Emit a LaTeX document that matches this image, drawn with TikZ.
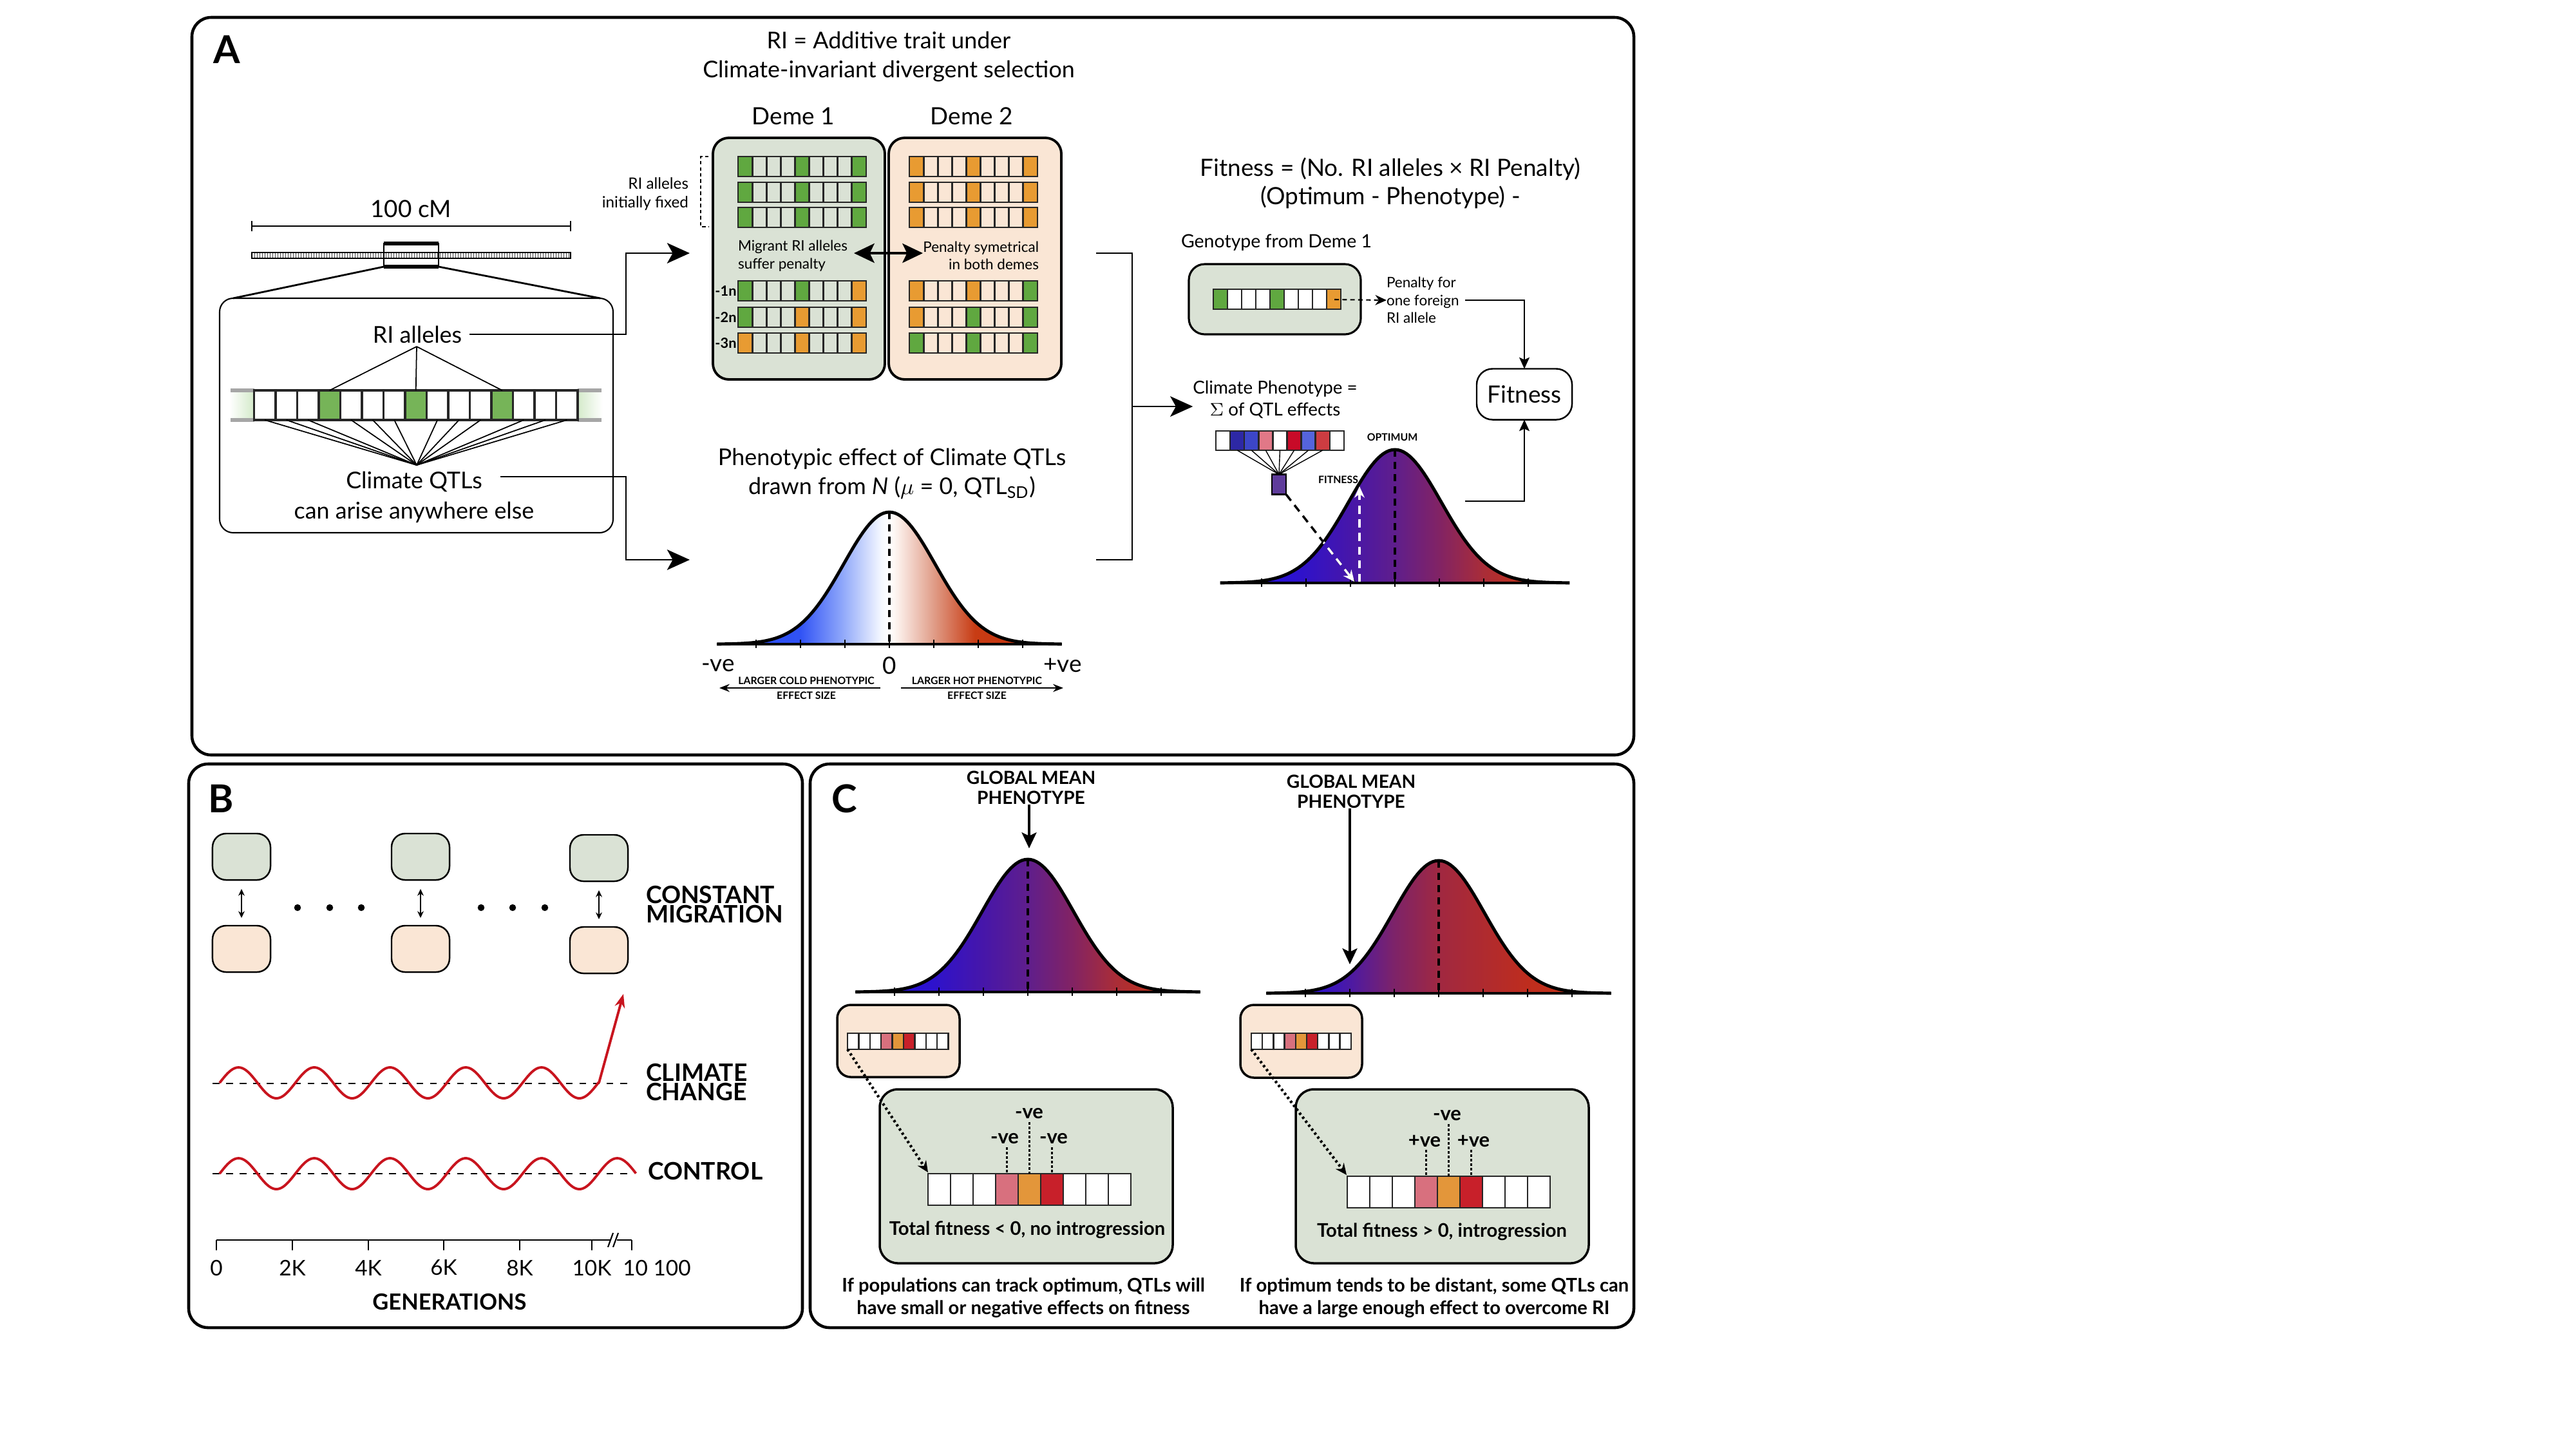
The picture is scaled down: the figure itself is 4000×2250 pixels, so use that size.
\documentclass[tikz,border=0pt]{standalone}
\usepackage{fontspec}
\setmainfont{Lato}
\usetikzlibrary{arrows.meta,calc}
\definecolor{demeg}{RGB}{218,226,213}
\definecolor{demep}{RGB}{250,230,213}
\definecolor{cg}{RGB}{96,168,64}
\definecolor{co}{RGB}{232,155,50}
\definecolor{sg}{RGB}{118,180,88}
\definecolor{sgl}{RGB}{212,234,202}
\definecolor{wred}{RGB}{200,20,30}
\definecolor{qa}{RGB}{45,40,165}
\definecolor{qb}{RGB}{60,70,200}
\definecolor{qc}{RGB}{225,120,135}
\definecolor{qd}{RGB}{200,10,40}
\definecolor{qe}{RGB}{85,100,220}
\definecolor{qf}{RGB}{205,60,65}
\definecolor{pbox}{RGB}{95,60,155}
\definecolor{cpink}{RGB}{216,112,126}
\definecolor{corange}{RGB}{227,150,58}
\definecolor{cred}{RGB}{200,32,42}
\definecolor{b1}{RGB}{40,75,240}
\definecolor{b2}{RGB}{48,82,245}
\definecolor{b3}{RGB}{140,165,250}
\definecolor{b4}{RGB}{245,248,255}
\definecolor{r1}{RGB}{252,240,235}
\definecolor{r2}{RGB}{225,160,140}
\definecolor{r3}{RGB}{200,60,20}
\definecolor{r4}{RGB}{195,45,10}
\pgfdeclarehorizontalshading{qtlshade}{100bp}{color(0bp)=(b1); color(25bp)=(b1); color(37bp)=(b2); color(43bp)=(b3); color(48.8bp)=(b4); color(50bp)=(white); color(51.2bp)=(r1); color(56.2bp)=(r2); color(62.4bp)=(r3); color(75bp)=(r4); color(100bp)=(r4)}
\definecolor{f1}{RGB}{35,15,225}
\definecolor{f2}{RGB}{45,18,205}
\definecolor{f3}{RGB}{70,22,170}
\definecolor{f4}{RGB}{95,30,140}
\definecolor{f5}{RGB}{130,35,100}
\definecolor{f6}{RGB}{170,45,55}
\definecolor{f7}{RGB}{195,50,25}
\pgfdeclarehorizontalshading{fitshade}{100bp}{color(0bp)=(f1); color(29bp)=(f1); color(36bp)=(f2); color(43.4bp)=(f3); color(50bp)=(f4); color(56.4bp)=(f5); color(62.8bp)=(f6); color(69.2bp)=(f7); color(100bp)=(f7)}
\definecolor{h1}{RGB}{35,15,220}
\definecolor{h2}{RGB}{75,25,165}
\definecolor{h3}{RGB}{125,35,105}
\definecolor{h4}{RGB}{160,40,65}
\definecolor{h5}{RGB}{190,45,30}
\definecolor{h6}{RGB}{200,55,20}
\pgfdeclarehorizontalshading{hotshade}{100bp}{color(0bp)=(h1); color(30.6bp)=(h1); color(37bp)=(h2); color(43.5bp)=(h3); color(50bp)=(h4); color(62.8bp)=(h5); color(75bp)=(h6); color(100bp)=(h6)}
\newcommand{\generow}[6]{%
  \foreach \gcol [count=\gidx from 0] in {#5}{%
    \filldraw[fill=\gcol,draw=black!85,line width=#6] ({#1+\gidx*#3},#2) rectangle ({#1+(\gidx+1)*#3},{#2+#4});}}
\newcommand{\bellcurve}[5]{%
  \begin{scope}
    \clip plot[domain=-3.77:3.77,samples=121] ({#1+#3*\x},{#2-#4*exp(-0.5*\x*\x)}) -- cycle;
    \shade[shading=#5] ({#1-3.77*#3},{#2+2}) rectangle ({#1+3.77*#3},{#2-#4-6});
  \end{scope}
  \foreach \k in {-3,...,3}{\draw[line width=0.8pt] ({#1+\k*69},{#2-7}) -- ({#1+\k*69},{#2+6});}
  \draw[line width=1.4pt,line join=round] plot[domain=-3.77:3.77,samples=121] ({#1+#3*\x},{#2-#4*exp(-0.5*\x*\x)});
  \draw[line width=1.4pt] ({#1-3.77*#3},#2) -- ({#1+3.77*#3},#2);
  \draw[line width=0.9pt,dash pattern=on 3.2pt off 2.2pt] (#1,{#2-#4}) -- (#1,#2);
}
\begin{document}
\begin{tikzpicture}[x=0.01cm,y=-0.01cm,
  every node/.style={inner sep=0pt,outer sep=0pt},
  panel/.style={draw,line width=1.3pt,rounded corners=8.5pt},
  plab/.style={font=\fontsize{17}{17}\selectfont\bfseries},
  tbig/.style={font=\fontsize{10.2}{12.8}\selectfont,align=center},
  tmid/.style={font=\fontsize{8.1}{9.7}\selectfont,align=center},
  tsmall/.style={font=\fontsize{6.4}{7.8}\selectfont},
  tnb/.style={font=\fontsize{6.2}{7}\selectfont\bfseries},
  ttiny/.style={font=\fontsize{4.5}{7}\selectfont\bfseries,align=center},
  theavy/.style={font=\fontsize{10.6}{8.7}\selectfont\bfseries,align=left},
  tcb/.style={font=\fontsize{8}{8.7}\selectfont\bfseries,align=center},
  tcs/.style={font=\fontsize{8.3}{10}\selectfont\bfseries,align=center},
  tve/.style={font=\fontsize{8.8}{9}\selectfont\bfseries},
  demebox/.style={draw,line width=1.1pt,rounded corners=7pt},
  arrbig/.style={-{Stealth[length=10pt,width=9pt,inset=2.5pt]}},
  arrmed/.style={-{Stealth[length=5pt,width=4.5pt,inset=1pt]}},
  wave/.style={draw=wred,line width=1.1pt},
  dotarr/.style={line width=1.2pt,dash pattern=on 1pt off 1.2pt,-{Stealth[length=5pt,width=4.5pt]}},
  smallbox/.style={draw,line width=0.7pt,rounded corners=6pt,minimum width=0.9cm,minimum height=0.72cm},
]
\useasboundingbox (0,0) rectangle (4000,2250);
\fill[white] (0,0) rectangle (4000,2250);

%================ PANEL A =================
\draw[panel] (298,27) rectangle (2537,1172);
\node[plab] (labA) at (352,77) {A};
\node[tbig] (titleA) at (1380,88) {RI = Additive trait under\\Climate-invariant divergent selection};

% chromosome
\node[tbig,font=\fontsize{10.5}{12}\selectfont] (cm) at (638,324) {100 cM};
\coordinate (sb0) at (391,351); \coordinate (sb1) at (886,351);
\draw[line width=0.7pt] (sb0) -- (sb1);
\draw[line width=0.7pt] (391,343) -- (391,359) (886,343) -- (886,359);
\foreach \i in {0,...,123}{\draw[line width=0.25pt,black!70] ({391+4*\i},392) -- ({391+4*\i},401);}
\draw[line width=0.5pt] (391,392) rectangle (886,401);
\draw[line width=0.7pt] (596,378) rectangle (681,414);
\draw[line width=1.5pt] (596,378) -- (681,378) (596,414) -- (681,414);
\coordinate (hlbl) at (596,414); \coordinate (hlbr) at (681,414);
\draw[line width=0.6pt,rounded corners=6pt] (341,463) rectangle (952,827);
\coordinate (bxtl) at (362,463); \coordinate (bxtr) at (932,463);
\draw[line width=0.8pt] (hlbl) -- (bxtl);
\draw[line width=0.8pt] (hlbr) -- (bxtr);

% gene strip
\shade[left color=white,right color=sgl] (356,606) rectangle (394,652);
\shade[left color=sgl,right color=white] (897,606) rectangle (936,652);
\draw[line width=1.6pt,black!35] (358,606) -- (395,606) (358,652) -- (395,652) (897,606) -- (934,606) (897,652) -- (934,652);
\generow{394.5}{606}{33.5}{46}{white,white,white,sg,white,white,white,sg,white,white,white,sg,white,white,white}{1.1pt}
\node[tbig] (rial) at (648,519) {RI alleles};
\coordinate (apex) at (647,538);
\coordinate (fan) at (647,722);
\foreach \c in {4,8,12}{\draw[line width=0.5pt] (apex) -- ({361+(\c+0.5)*33.5},606);}
\foreach \c in {1,2,3,5,6,7,9,10,11,13,14,15}{\draw[line width=0.5pt] (fan) -- ({361+(\c+0.5)*33.5},652);}
\node[tbig] (cq1) at (643,748) {Climate QTLs};
\node[tbig] (cq2) at (643,795) {can arise anywhere else};

% connectors to demes / QTL curve
\coordinate (j1) at (972,393); \coordinate (tip1) at (1071,393);
\coordinate (j2) at (972,869); \coordinate (tip2) at (1071,869);
\draw[line width=0.8pt,arrbig] ($(rial.east)+(12,0)$) -| (j1) -- (tip1);
\draw[line width=0.8pt,arrbig] ($(cq1.east)+(28,-8)$) -| (j2) -- (tip2);

% demes
\node[tbig,font=\fontsize{10.5}{12}\selectfont] (d1lab) at (1232,180) {Deme 1};
\node[tbig,font=\fontsize{10.5}{12}\selectfont] (d2lab) at (1509,180) {Deme 2};
\draw[demebox,fill=demeg] (1107,214) rectangle (1374,589);
\draw[demebox,fill=demep] (1380,214) rectangle (1648,589);
\generow{1146}{243}{22.1}{31}{cg,demeg,demeg,demeg,cg,demeg,demeg,demeg,cg}{0.8pt}
\generow{1146}{283}{22.1}{31}{cg,demeg,demeg,demeg,cg,demeg,demeg,demeg,cg}{0.8pt}
\generow{1146}{322}{22.1}{31}{cg,demeg,demeg,demeg,cg,demeg,demeg,demeg,cg}{0.8pt}
\generow{1146}{436}{22.1}{31}{cg,demeg,demeg,demeg,cg,demeg,demeg,demeg,co}{0.8pt}
\generow{1146}{477}{22.1}{31}{cg,demeg,demeg,demeg,co,demeg,demeg,demeg,co}{0.8pt}
\generow{1146}{517}{22.1}{31}{co,demeg,demeg,demeg,co,demeg,demeg,demeg,co}{0.8pt}
\generow{1412}{243}{22.1}{31}{co,demep,demep,demep,co,demep,demep,demep,co}{0.8pt}
\generow{1412}{283}{22.1}{31}{co,demep,demep,demep,co,demep,demep,demep,co}{0.8pt}
\generow{1412}{322}{22.1}{31}{co,demep,demep,demep,co,demep,demep,demep,co}{0.8pt}
\generow{1412}{436}{22.1}{31}{co,demep,demep,demep,co,demep,demep,demep,cg}{0.8pt}
\generow{1412}{477}{22.1}{31}{co,demep,demep,demep,cg,demep,demep,demep,cg}{0.8pt}
\generow{1412}{517}{22.1}{31}{cg,demep,demep,demep,cg,demep,demep,demep,cg}{0.8pt}
\node[tnb] (n1) at (1127,452) {-1n};
\node[tnb] (n2) at (1127,493) {-2n};
\node[tnb] (n3) at (1127,533) {-3n};
\node[tsmall,align=left,anchor=west] (migr) at (1146,397) {Migrant RI alleles\\suffer penalty};
\node[tsmall,align=right,anchor=east] (pens) at (1613,397) {Penalty symetrical\\in both demes};
\coordinate (da1) at (1326,393); \coordinate (da2) at (1433,393);
\draw[line width=1.2pt,{Stealth[length=9pt,width=8.5pt,inset=2pt]}-{Stealth[length=9pt,width=8.5pt,inset=2pt]}] (da1) -- (da2);
\node[tsmall,font=\fontsize{6.9}{8.2}\selectfont,align=right,anchor=east] (rifix) at (1069,301) {RI alleles\\initially fixed};
\draw[line width=0.6pt,dash pattern=on 1.5pt off 1.2pt] (1100,243) -- (1088,243) -- (1088,352) -- (1100,352);

% QTL effect distribution
\node[tbig] (phtitle) at (1385,735) {Phenotypic effect of Climate QTLs\\drawn from \textit{N} ($\mu$ = 0, QTL\textsubscript{SD})};
\bellcurve{1381}{1000}{71}{205}{qtlshade}
\node[tbig,font=\fontsize{10.5}{12}\selectfont] (nve) at (1115,1033) {-ve};
\node[tbig,font=\fontsize{10.5}{12}\selectfont] (zero) at (1381,1033) {0};
\node[tbig,font=\fontsize{10.5}{12}\selectfont] (pve) at (1650,1033) {+ve};
\node[ttiny] (cold) at (1252,1068) {LARGER COLD PHENOTYPIC\\[-0.6pt]EFFECT SIZE};
\node[ttiny] (hot) at (1517,1068) {LARGER HOT PHENOTYPIC\\[-0.6pt]EFFECT SIZE};
\coordinate (ca0) at (1367,1068); \coordinate (ca1) at (1117,1068);
\coordinate (ha0) at (1399,1068); \coordinate (ha1) at (1651,1068);
\draw[line width=0.6pt,-{Stealth[length=4.5pt,width=3.5pt]}] (ca0) -- (ca1);
\draw[line width=0.6pt,-{Stealth[length=4.5pt,width=3.5pt]}] (ha0) -- (ha1);

% bracket to fitness
\coordinate (bt1) at (1702,393); \coordinate (bt2) at (1758,393);
\coordinate (bb2) at (1758,869); \coordinate (bb1) at (1702,869);
\coordinate (bm) at (1758,631);
\draw[line width=0.8pt] (bt1) -- (bt2) -- (bb2) -- (bb1);

% fitness formula
\node[tbig,font=\fontsize{10.5}{12.6}\selectfont] (formula) at (2159,284) {Fitness = (No. RI alleles × RI Penalty)\\(Optimum - Phenotype) -};
\node[tmid,anchor=west] (genlab) at (1834,377) {Genotype from Deme 1};
\draw[demebox,line width=0.9pt,fill=demeg] (1846,410) rectangle (2113,519);
\generow{1884}{449}{22}{31}{cg,white,white,white,cg,white,white,white,co}{0.7pt}
\coordinate (forr) at (2072,465);
\node[tsmall,align=left,anchor=west] (pen) at (2153,466) {Penalty for\\one foreign\\RI allele};
\draw[line width=0.6pt,dash pattern=on 2pt off 1.5pt,-{Stealth[length=5pt,width=4.5pt]}] (forr) -- (pen.west);
\node[draw,line width=0.7pt,rounded corners=7pt,minimum width=1.48cm,minimum height=0.79cm,font=\fontsize{10.5}{12}\selectfont] (fit) at (2367,612) {Fitness};
\coordinate (penr) at (2275,466);
\coordinate (curr) at (2275,778);
\draw[line width=0.7pt,arrmed] (penr) -| (fit.north);
\draw[line width=0.7pt,arrmed] (curr) -| (fit.south);
\node[tmid,font=\fontsize{7.9}{9.6}\selectfont] (cphen) at (1980,620) {Climate Phenotype =\\$\Sigma$ of QTL effects};
\draw[line width=0.8pt,arrbig] (bm) -- (bm -| cphen.west);
\generow{1888}{669}{22.1}{30}{white,qa,qb,qc,white,qd,qe,qf,white}{0.7pt}
\node[draw,line width=0.7pt,fill=pbox,minimum width=0.22cm,minimum height=0.31cm] (pb) at (1986,752) {};
\foreach \c in {1,...,7}{\draw[line width=0.4pt] (pb.north) -- ({1888+(\c+0.5)*22.1},699);}
\bellcurve{2166}{905}{72}{207}{fitshade}
\coordinate (dtip) at (2103,903);
\coordinate (fup0) at (2111,903); \coordinate (fup1) at (2111,755);
\draw[line width=1pt,dash pattern=on 3.5pt off 2.5pt] (pb.south east) -- (dtip);
\begin{scope}
  \clip plot[domain=-3.77:3.77,samples=121] ({2166+72*\x},{905-207*exp(-0.5*\x*\x)}) -- (2440,925) -- (1890,925) -- cycle;
  \draw[white,line width=1pt,dash pattern=on 3.5pt off 2.5pt,-{Stealth[length=5pt,width=4.5pt]}] (pb.south east) -- (dtip);
\end{scope}
\draw[white,line width=1pt,dash pattern=on 3.5pt off 2.5pt,-{Stealth[length=5pt,width=4.5pt]}] (fup0) -- (fup1);
\node[ttiny] (optlab) at (2162,679) {OPTIMUM};
\node[ttiny] (fitlab) at (2078,745) {FITNESS};

%================ PANEL B =================
\draw[panel] (293,1186) rectangle (1246,2061);
\node[plab] (labB) at (343,1240) {B};
\node[smallbox,fill=demeg] (g1) at (375,1330) {};
\node[smallbox,fill=demeg] (g2) at (653,1330) {};
\node[smallbox,fill=demeg] (g3) at (930,1332) {};
\node[smallbox,fill=demep] (p1) at (375,1473) {};
\node[smallbox,fill=demep] (p2) at (653,1473) {};
\node[smallbox,fill=demep] (p3) at (930,1475) {};
\foreach \n in {1,2,3}{\draw[line width=0.5pt,{Stealth[length=3pt,width=2.8pt]}-{Stealth[length=3pt,width=2.8pt]}] ($(g\n.south)+(0,14)$) -- ($(p\n.north)-(0,12)$);}
\foreach \xx in {462,512,561,747,796,846}{\fill (\xx,1409) circle (1.5pt);}
\node[theavy,anchor=west] (cmig) at (1003,1404) {CONSTANT\\MIGRATION};
\node[theavy,anchor=west] (cchg) at (1003,1680) {CLIMATE\\CHANGE};
\node[theavy,anchor=west] (ctrl) at (1006,1818) {CONTROL};
\draw[line width=0.5pt,dashed] (330,1682) -- (975,1682);
\draw[line width=0.5pt,dashed] (330,1822) -- (975,1822);
\draw[wave,line join=round] plot[domain=0:5.008,samples=200] ({341+117.6*\x},{1681-24*sin(360*\x)});
\coordinate (ccend) at (930,1681); \coordinate (cctip) at (968,1543);
\draw[wave,-{Stealth[length=6pt,width=4.5pt]}] (ccend) -- (cctip);
\draw[wave,line join=round] plot[domain=0:5.5,samples=220] ({341+117.6*\x},{1822-24*sin(360*\x)});
\coordinate (ax0) at (336,1925); \coordinate (ax1) at (981,1925);
\draw[line width=0.6pt] (ax0) -- (ax1);
\foreach \xx/\tl in {336/0,454/2K,572/4K,689/6K,807/8K,919/10K}{%
  \draw[line width=0.6pt] (\xx,1925) -- (\xx,1941);
  \node[font=\fontsize{9.5}{11}\selectfont] at (\xx,1968) {\tl};}
\draw[line width=0.6pt] (981,1925) -- (981,1941);
\node[font=\fontsize{9.5}{11}\selectfont] (ax100) at (1020,1968) {10 100};
\fill[white] (948,1919) rectangle (958,1931);
\draw[line width=0.6pt] (944,1936) -- (952,1914) (952,1936) -- (960,1914);
\node[font=\fontsize{9.8}{11}\selectfont\bfseries] (gens) at (698,2021) {GENERATIONS};

%================ PANEL C =================
\draw[panel] (1258,1186) rectangle (2537,2061);
\node[plab] (labC) at (1311,1240) {C};
% left
\node[tcb] (gm1) at (1601,1223) {GLOBAL MEAN\\PHENOTYPE};
\coordinate (gm1t) at (1598,1317);
\draw[line width=1.2pt,-{Stealth[length=7pt,width=6.5pt,inset=1.5pt]}] (gm1.south -| gm1t) -- (gm1t);
\bellcurve{1596}{1540}{71}{206}{fitshade}
\draw[line width=1pt,rounded corners=6pt,fill=demep] (1300,1560) rectangle (1490,1672);
\generow{1316}{1604}{17.4}{25}{white,white,white,cpink,corange,cred,white,white,white}{0.7pt}
\coordinate (cl0) at (1316,1629);
\draw[line width=1pt,rounded corners=8pt,fill=demeg] (1366,1691) rectangle (1821,1961);
\generow{1441}{1822}{35}{49}{white,white,white,cpink,corange,cred,white,white,white}{0.8pt}
\coordinate (cl1) at (1441,1820);
\draw[dotarr] (cl0) -- (cl1);
\node[tve] (lv2) at (1598,1729) {-ve};
\node[tve] (lv1) at (1560,1768) {-ve};
\node[tve] (lv3) at (1636,1768) {-ve};
\draw[line width=0.6pt,dash pattern=on 1pt off 1pt] (1563.5,1781) -- (1563.5,1822);
\draw[line width=0.6pt,dash pattern=on 1pt off 1pt] (1598.5,1742) -- (1598.5,1822);
\draw[line width=0.6pt,dash pattern=on 1pt off 1pt] (1633.5,1781) -- (1633.5,1822);
\node[tcs] (tf1) at (1595,1909) {Total fitness < 0, no introgression};
\node[tcs] (bt1) at (1589,2015) {If populations can track optimum, QTLs will\\have small or negative effects on fitness};
% right
\node[tcb] (gm2) at (2098,1229) {GLOBAL MEAN\\PHENOTYPE};
\coordinate (gm2t) at (2096,1497);
\draw[line width=1.2pt,-{Stealth[length=7pt,width=6.5pt,inset=1.5pt]}] (gm2.south -| gm2t) -- (gm2t);
\bellcurve{2234}{1542}{71}{206}{hotshade}
\draw[line width=1pt,rounded corners=6pt,fill=demep] (1926,1560) rectangle (2115,1673);
\generow{1943}{1604}{17.2}{25}{white,white,white,cpink,corange,cred,white,white,white}{0.7pt}
\coordinate (cr0) at (1943,1629);
\draw[line width=1pt,rounded corners=8pt,fill=demeg] (2012,1691) rectangle (2467,1961);
\generow{2092}{1826}{35}{49}{white,white,white,cpink,corange,cred,white,white,white}{0.8pt}
\coordinate (cr1) at (2091,1824);
\draw[dotarr] (cr0) -- (cr1);
\node[tve] (rv2) at (2247,1732) {-ve};
\node[tve] (rv1) at (2212,1772) {+ve};
\node[tve] (rv3) at (2288,1772) {+ve};
\draw[line width=0.6pt,dash pattern=on 1pt off 1pt] (2214.5,1785) -- (2214.5,1826);
\draw[line width=0.6pt,dash pattern=on 1pt off 1pt] (2249.5,1745) -- (2249.5,1826);
\draw[line width=0.6pt,dash pattern=on 1pt off 1pt] (2284.5,1785) -- (2284.5,1826);
\node[tcs] (tf2) at (2239,1912) {Total fitness > 0, introgression};
\node[tcs] (bt2) at (2227,2015) {If optimum tends to be distant, some QTLs can\\have a large enough effect to overcome RI};
\end{tikzpicture}
\end{document}
